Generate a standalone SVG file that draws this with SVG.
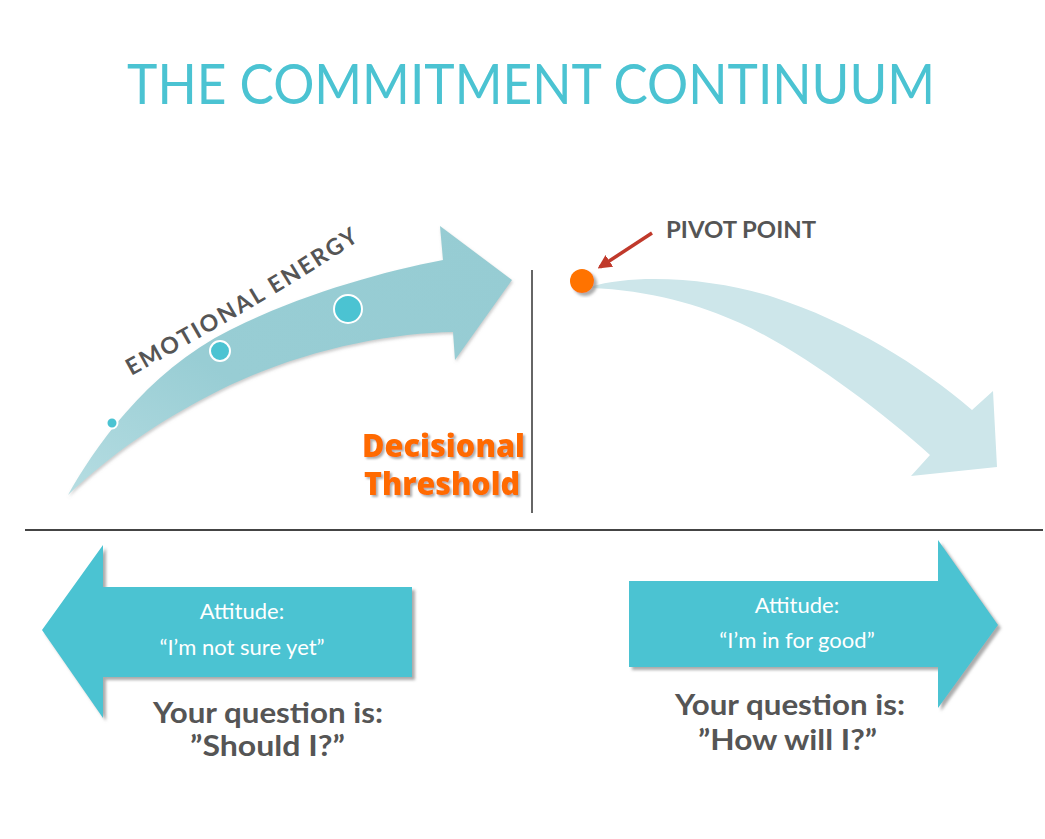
<svg xmlns="http://www.w3.org/2000/svg" width="1045" height="839" viewBox="0 0 1045 839">
<style>
.title{font-family:Lato,"Liberation Sans",sans-serif;font-size:56px;fill:#4BC3D2}
.gray{font-family:Lato,"Liberation Sans",sans-serif;font-weight:700;fill:#555}
.att{font-family:Lato,"Liberation Sans",sans-serif;font-size:22px;fill:#fff;text-anchor:middle}
.q{font-family:Lato,"Liberation Sans",sans-serif;font-weight:700;font-size:29px;fill:#555}
.dec{font-family:"Open Sans","Liberation Sans",sans-serif;font-weight:800;font-size:31px;fill:#FF6A00}
.dot{fill:#4BC3D2;stroke:#fff;stroke-width:2}
</style>
<defs>
<filter id="sh" x="-10%" y="-10%" width="130%" height="130%"><feDropShadow dx="3" dy="3" stdDeviation="1.5" flood-color="#888" flood-opacity="0.7"/></filter>
<filter id="soft" x="-10%" y="-10%" width="130%" height="130%"><feDropShadow dx="1" dy="2" stdDeviation="1.5" flood-color="#999" flood-opacity="0.5"/></filter>
<filter id="tsh" x="-5%" y="-10%" width="115%" height="130%"><feDropShadow dx="2" dy="2" stdDeviation="1" flood-color="#777" flood-opacity="0.6"/></filter>
<linearGradient id="g1" x1="0" y1="1" x2="1" y2="0"><stop offset="0" stop-color="#B6DDE2"/><stop offset="0.4" stop-color="#98CDD4"/><stop offset="1" stop-color="#96CCD3"/></linearGradient>
<marker id="rh" viewBox="0 0 10 10" refX="8" refY="5" markerWidth="4" markerHeight="4" orient="auto"><path d="M0,0 L10,5 L0,10 Z" fill="#C0392B"/></marker>
<path id="eep" d="M131,376 Q292,288 380,226"/>
</defs>

<g id="title"><text class="title" x="127" y="104" textLength="808" lengthAdjust="spacingAndGlyphs">THE COMMITMENT CONTINUUM</text></g>

<g id="emotional-arrow">
<path d="M68,495 C92,452 145,372 230,330 C300,295 380,272 443,260 L440,226 L512,280 L455,360 L453,332 C390,333 300,350 220,390 C160,420 110,455 68,495 Z" fill="url(#g1)" filter="url(#soft)"/>
<circle class="dot" cx="112" cy="423" r="5.5"/>
<circle class="dot" cx="220" cy="351" r="10"/>
<circle class="dot" cx="348" cy="309" r="14"/>
<text class="gray" font-size="23" letter-spacing="2.2"><textPath href="#eep">EMOTIONAL ENERGY</textPath></text>
</g>

<g id="threshold">
<text class="dec" x="362" y="457" textLength="163" lengthAdjust="spacingAndGlyphs" filter="url(#tsh)">Decisional</text>
<text class="dec" x="364" y="495" textLength="156" lengthAdjust="spacingAndGlyphs" filter="url(#tsh)">Threshold</text>
</g>

<g id="pivot">
<path d="M590,287 C640,272 720,280 773,297 C850,322 920,365 972,410 L993,391 L997,467 L911,476 L930,455 C880,410 800,350 740,323 C700,305 650,290 590,288 Z" fill="#CDE6EA"/>
<circle cx="582" cy="281" r="12" fill="#FF7300" filter="url(#sh)"/>
<text class="gray" font-size="23" x="666" y="238" textLength="150" lengthAdjust="spacingAndGlyphs">PIVOT POINT</text>
</g>

<g id="connectors">
<line x1="532" y1="270" x2="532" y2="513" stroke="#333" stroke-width="1.5"/>
<line x1="25" y1="530" x2="1043" y2="530" stroke="#444" stroke-width="2"/>
<line x1="652" y1="233" x2="600" y2="267" stroke="#C0392B" stroke-width="3.5" marker-end="url(#rh)"/>
</g>

<g id="left-attitude">
<path d="M42,630 L103,545 L103,587 L412,587 L412,677 L103,677 L103,718 Z" fill="#4BC3D2" filter="url(#sh)"/>
<text class="att" x="242" y="619">Attitude:</text>
<text class="att" x="242" y="655">“I’m not sure yet”</text>
<text class="q" x="153" y="723" textLength="230" lengthAdjust="spacingAndGlyphs">Your question is:</text>
<text class="q" x="190" y="756" textLength="155" lengthAdjust="spacingAndGlyphs">”Should I?”</text>
</g>

<g id="right-attitude">
<path d="M629,581 L938,581 L938,540 L998,625 L938,708 L938,667 L629,667 Z" fill="#4BC3D2" filter="url(#sh)"/>
<text class="att" x="797" y="613">Attitude:</text>
<text class="att" x="797" y="648">“I’m in for good”</text>
<text class="q" x="675" y="715" textLength="230" lengthAdjust="spacingAndGlyphs">Your question is:</text>
<text class="q" x="698" y="750" textLength="179" lengthAdjust="spacingAndGlyphs">”How will I?”</text>
</g>
</svg>
